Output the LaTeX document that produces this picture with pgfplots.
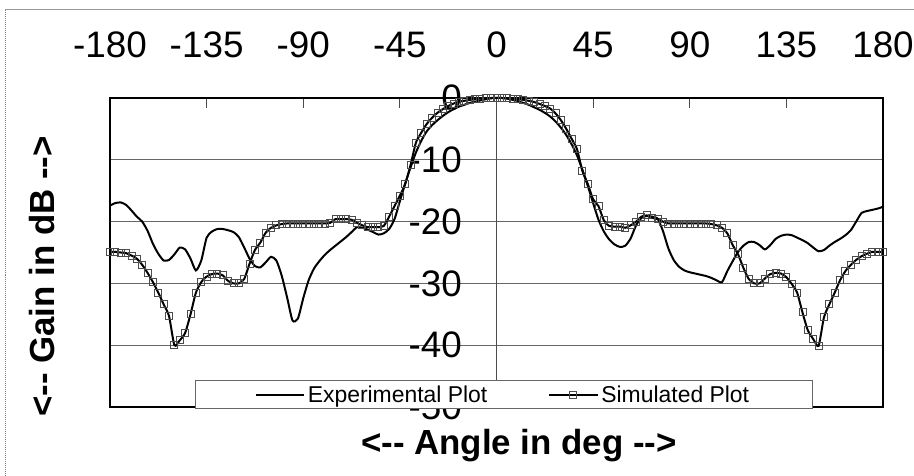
\documentclass[border=0pt]{standalone}
\usepackage{fontspec}
\setmainfont{Liberation Sans}
\usepackage{pgfplots}
\usepackage{pgfplotstable}
\pgfplotsset{compat=1.18}

\pgfplotstableread{
ang gain
-180 -17.4
-177.5 -17.0
-175 -16.9
-172.5 -17.3
-170 -18.2
-167.5 -19.2
-165 -20.0
-162.5 -21.5
-160 -23.6
-157.5 -25.2
-155 -26.3
-152.5 -26.2
-150 -25.3
-147.5 -24.2
-145 -24.5
-142.5 -26.0
-140 -27.9
-137.5 -26.3
-135 -22.6
-132.5 -21.6
-130 -21.2
-127.5 -21.2
-125 -21.4
-122.5 -21.7
-120 -22.5
-117.5 -24.2
-115 -26.0
-112.5 -27.2
-110 -27.4
-107.5 -26.6
-105 -25.7
-102.5 -26.3
-100 -28.8
-97.5 -32.3
-95 -36.0
-92.5 -35.7
-90 -32.4
-87.5 -29.5
-85 -27.6
-82.5 -26.4
-80 -25.4
-77.5 -24.6
-75 -23.9
-72.5 -23.2
-70 -22.5
-67.5 -21.7
-65 -20.9
-62.5 -21.0
-60 -21.3
-57.5 -21.7
-55 -22.1
-52.5 -21.9
-50 -21.2
-47.5 -19.6
-45 -16.7
-42.5 -13.8
-40 -11.2
-37.5 -8.8
-35 -6.9
-32.5 -5.4
-30 -4.4
-27.5 -3.6
-25 -2.9
-22.5 -2.3
-20 -1.8
-17.5 -1.4
-15 -1.1
-12.5 -0.8
-10 -0.6
-7.5 -0.4
-5 -0.2
-2.5 -0.05
0 0
2.5 0
5 -0.1
7.5 -0.3
10 -0.5
12.5 -0.8
15 -1.1
17.5 -1.5
20 -1.9
22.5 -2.4
25 -3.0
27.5 -3.8
30 -4.8
32.5 -6.0
35 -7.5
37.5 -9.3
40 -11.6
42.5 -14.2
45 -17.0
47.5 -19.7
50 -21.6
52.5 -22.9
55 -23.7
57.5 -24.1
60 -23.9
62.5 -22.7
65 -20.6
67.5 -19.4
70 -19.1
72.5 -19.2
75 -19.5
77.5 -21.5
80 -24.3
82.5 -26.2
85 -27.3
87.5 -27.9
90 -28.2
92.5 -28.4
95 -28.6
97.5 -28.8
100 -29.1
102.5 -29.5
105 -29.8
107.5 -28.0
110 -26.4
112.5 -24.9
115 -23.9
117.5 -23.3
120 -23.3
122.5 -23.8
125 -24.5
127.5 -23.8
130 -22.8
132.5 -22.3
135 -22.1
137.5 -22.2
140 -22.6
142.5 -23.0
145 -23.5
147.5 -24.2
150 -24.8
152.5 -24.6
155 -23.9
157.5 -23.3
160 -22.8
162.5 -22.2
165 -21.4
167.5 -20.0
170 -18.6
172.5 -18.3
175 -18.1
177.5 -17.9
180 -17.6
}\experimental

\pgfplotstableread{
ang gain
-180 -24.9
-177.5 -24.9
-175 -25.0
-172.5 -25.1
-170 -25.5
-167.5 -26.0
-165 -27.0
-162.5 -28.3
-160 -29.8
-157.5 -31.5
-155 -33.4
-152.5 -35.3
-150 -40.0
-147.5 -39.2
-145 -38.0
-142.5 -35.0
-140 -31.5
-137.5 -29.8
-135 -28.9
-132.5 -28.5
-130 -28.4
-127.5 -28.7
-125 -29.6
-122.5 -30.0
-120 -30.0
-117.5 -29.3
-115 -26.8
-112.5 -24.6
-110 -23.4
-107.5 -21.8
-105 -21.0
-102.5 -20.6
-100 -20.4
-97.5 -20.3
-95 -20.3
-92.5 -20.3
-90 -20.3
-87.5 -20.3
-85 -20.3
-82.5 -20.3
-80 -20.3
-77.5 -20.2
-75 -19.6
-72.5 -19.6
-70 -19.6
-67.5 -19.7
-65 -20.2
-62.5 -20.6
-60 -20.9
-57.5 -20.9
-55 -20.9
-52.5 -20.7
-50 -19.2
-47.5 -17.5
-45 -15.8
-42.5 -13.9
-40 -10.8
-37.5 -7.2
-35 -5.6
-32.5 -4.2
-30 -3.2
-27.5 -2.4
-25 -1.8
-22.5 -1.3
-20 -0.9
-17.5 -0.6
-15 -0.45
-12.5 -0.3
-10 -0.2
-7.5 -0.1
-5 -0.05
-2.5 0
0 0
2.5 0
5 -0.05
7.5 -0.1
10 -0.15
12.5 -0.3
15 -0.45
17.5 -0.65
20 -0.95
22.5 -1.3
25 -1.7
27.5 -2.5
30 -3.6
32.5 -5.0
35 -6.6
37.5 -8.3
40 -11.8
42.5 -13.9
45 -16.4
47.5 -17.5
50 -19.8
52.5 -20.7
55 -20.8
57.5 -20.8
60 -21.0
62.5 -20.6
65 -20.0
67.5 -19.2
70 -19.0
72.5 -19.4
75 -19.6
77.5 -20.0
80 -20.3
82.5 -20.3
85 -20.3
87.5 -20.3
90 -20.3
92.5 -20.3
95 -20.3
97.5 -20.3
100 -20.4
102.5 -20.6
105 -21.0
107.5 -21.9
110 -23.8
112.5 -25.3
115 -27.5
117.5 -29.3
120 -30.0
122.5 -30.0
125 -29.2
127.5 -28.5
130 -28.3
132.5 -28.4
135 -29.0
137.5 -30.1
140 -31.5
142.5 -34.7
145 -37.6
147.5 -39.0
150 -40.1
152.5 -35.5
155 -33.4
157.5 -31.5
160 -29.5
162.5 -28.0
165 -27.0
167.5 -26.2
170 -25.6
172.5 -25.2
175 -24.9
177.5 -24.9
180 -24.9
}\simulated

\begin{document}
\begin{tikzpicture}
\useasboundingbox (0,0) rectangle (914bp,476bp);
\fill[white] (0,0) rectangle (914bp,476bp);
\draw[black!40, line width=1bp] (5bp,466bp) -- (914bp,466bp);
\draw[black!50, line width=1bp, densely dotted] (5bp,466bp) -- (5bp,0);
\begin{axis}[
  at={(110bp,69bp)}, anchor=south west,
  width=773bp, height=309bp, scale only axis,
  xmin=-180, xmax=180, ymin=-50, ymax=0,
  clip=false,
  xtick={-180,-135,-90,-45,0,45,90,135,180},
  xticklabels={-180,-135,-90,-45,0,45,90,135,180},
  xtick pos=right, xticklabel pos=right, xtick align=inside,
  major tick length=10bp,
  ytick={-50,-40,-30,-20,-10,0},
  yticklabels={-50,-40,-30,-20,-10,0},
  ymajorgrids, grid style={black!60, line width=1.3bp},
  ytick style={draw=none},
  xtick style={black!70, line width=1bp},
  axis line style={line width=1.8bp},
  tick label style={font=\fontsize{37}{42}\selectfont, inner sep=0pt},
  xticklabel style={anchor=base, yshift=40bp},
  yticklabel style={anchor=east, xshift=352bp},
  xlabel={<-{}- Angle in deg -{}->},
  xlabel style={font=\bfseries\fontsize{35}{40}\selectfont, at={(axis description cs:0.529,-0.155)}, anchor=base},
  ylabel={<-{}- Gain in dB -{}->},
  ylabel style={font=\bfseries\fontsize{35}{40}\selectfont, at={(axis description cs:-0.0712,0.4223)}, anchor=base},
  legend columns=2,
  legend style={at={(0.509,0.040)}, anchor=center, draw=black!60, fill=white,
    font=\fontsize{23}{26}\selectfont, inner xsep=60bp, inner ysep=2bp,
    nodes={inner xsep=3bp, inner ysep=3bp},
    /tikz/every even column/.append style={column sep=58bp}},
  legend image code/.code={\draw[mark repeat=2,mark phase=2,#1] plot coordinates {(0bp,0bp) (24bp,0bp) (48bp,0bp)};},
]
\addplot[forget plot, black!70, line width=1bp] coordinates {(0,0) (0,-50)};
\addplot[black, line width=2bp, smooth, tension=0.4] table[x=ang, y=gain] {\experimental};
\addlegendentry{Experimental Plot}
\addplot[black, line width=2bp, smooth, tension=0.4, mark=square, mark size=3.5bp,
  mark options={solid, draw=black!70, line width=0.9bp, fill=none}] table[x=ang, y=gain] {\simulated};
\addlegendentry{Simulated Plot}
\end{axis}
\end{tikzpicture}
\end{document}
